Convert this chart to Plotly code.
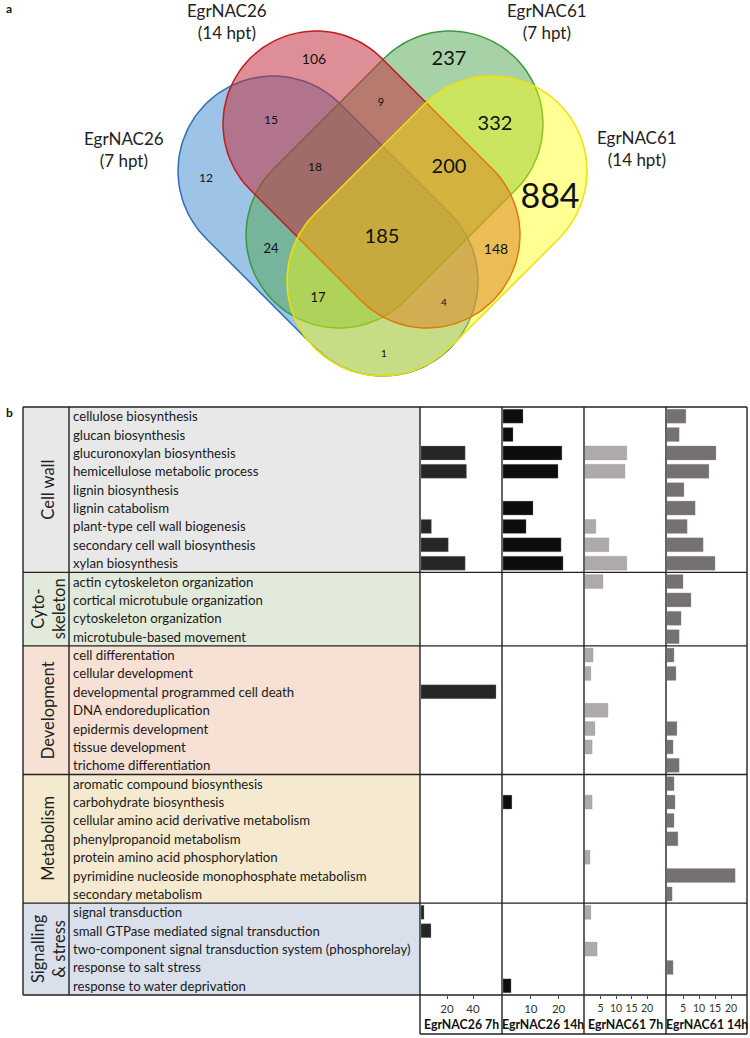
import numpy as np
import plotly.graph_objects as go

W, H = 750, 1038

# ---------------- data ----------------
venn_labels = ["EgrNAC26<br>(7 hpt)", "EgrNAC26<br>(14 hpt)", "EgrNAC61<br>(7 hpt)", "EgrNAC61<br>(14 hpt)"]
region_names = ["B", "R", "G", "Y", "BR", "RG", "GY", "BRG", "RGY", "BRGY", "BG", "RY", "BGY", "BRY", "BY"]
region_counts = [12, 106, 237, 884, 15, 9, 332, 18, 200, 185, 24, 148, 17, 4, 1]

groups = ["Cell wall", "Cyto-<br>skeleton", "Development", "Metabolism", "Signalling<br>& stress"]
group_sizes = [9, 4, 7, 7, 5]
terms = [
    "cellulose biosynthesis", "glucan biosynthesis", "glucuronoxylan biosynthesis",
    "hemicellulose metabolic process", "lignin biosynthesis", "lignin catabolism",
    "plant-type cell wall biogenesis", "secondary cell wall biosynthesis", "xylan biosynthesis",
    "actin cytoskeleton organization", "cortical microtubule organization",
    "cytoskeleton organization", "microtubule-based movement",
    "cell differentation", "cellular development", "developmental programmed cell death",
    "DNA endoreduplication", "epidermis development", "tissue development", "trichome differentiation",
    "aromatic compound biosynthesis", "carbohydrate biosynthesis",
    "cellular amino acid derivative metabolism", "phenylpropanoid metabolism",
    "protein amino acid phosphorylation", "pyrimidine nucleoside monophosphate metabolism",
    "secondary metabolism",
    "signal transduction", "small GTPase mediated signal transduction",
    "two-component signal transduction system (phosphorelay)", "response to salt stress",
    "response to water deprivation",
]
N = None
nac26_7h = [N, N, 34, 35, N, N, 8, 21, 34,
            N, N, N, N,
            N, N, 57.7, N, N, N, N,
            N, N, N, N, N, N, N,
            2.3, 7.7, N, N, N]
nac26_14h = [7.2, 3.6, 21.2, 19.8, N, 10.8, 8.3, 20.9, 21.6,
             N, N, N, N,
             N, N, N, N, N, N, N,
             N, 3.2, N, N, N, N, N,
             N, N, N, N, 2.9]
nac61_7h = [N, N, 13.5, 12.9, N, N, 3.5, 7.7, 13.5,
            5.8, N, N, N,
            2.6, 1.9, N, 7.4, 3.2, 2.3, N,
            N, 2.3, N, N, 1.6, N, N,
            1.9, N, 3.9, N, N]
nac61_14h = [5.9, 3.8, 15.3, 13.1, 5.3, 8.8, 6.3, 11.3, 15.0,
             5.0, 7.5, 4.4, 3.8,
             2.2, 2.8, N, N, 3.1, 1.9, 3.8,
             2.2, 2.5, 2.2, 3.4, N, 21.3, 1.6,
             N, N, N, 1.9, N]
panel_names = ["EgrNAC26 7h", "EgrNAC26 14h", "EgrNAC61 7h", "EgrNAC61 14h"]
panel_ticks = [[20, 40], [10, 20], [5, 10, 15, 20], [5, 10, 15, 20]]

# ---------------- styles / layout geometry ----------------
FONT = "Lato"
venn_order = ["B", "G", "R", "Y"]
venn_geom = {  # (centre1, centre2, radius) in pixels
    "B": ((273, 171), (383, 281), 95),
    "R": ((316, 124), (427, 235), 93),
    "G": ((450, 124), (339, 235), 93),
    "Y": ((492, 171), (382, 281), 95),
}
venn_fill = {"B": "rgba(91,155,213,0.6)", "R": "rgba(195,50,65,0.55)",
             "G": "rgba(80,165,80,0.5)", "Y": "rgba(255,255,0,0.42)"}
venn_line = {"B": "#2f6eb5", "R": "#c41a1a", "G": "#3a9a3a", "Y": "#eee200"}
region_pos = {"B": (206, 179), "R": (314, 60), "G": (449, 60), "Y": (550, 199),
              "BR": (271, 121), "RG": (381, 103), "GY": (495, 125), "BRG": (315, 168),
              "RGY": (449, 168), "BRGY": (382, 238), "BG": (271, 250), "RY": (496, 250),
              "BGY": (318, 299), "BRY": (444, 303), "BY": (384, 354)}
region_size = {"B": 12, "R": 14, "G": 20, "Y": 34, "BR": 12, "RG": 11, "GY": 20, "BRG": 12,
               "RGY": 20, "BRGY": 20, "BG": 13, "RY": 14, "BGY": 13, "BRY": 10, "BY": 10}
venn_label_pos = [(124, 150), (227, 22), (547, 22), (637, 149)]

table_top, row_h = 407, 18.375
x_left, x_grp, x_terms_end = 23, 69, 420
panel_edges = [420, 502, 584, 666, 747]
bar_colors = ["#262626", "#0d0d0d", "#aeaaaa", "#767171"]
panel_px_per_unit = [1.3, 2.78, 3.1, 3.2]
panel_tick_size = [11.5, 11.5, 10.5, 10.5]
group_bg = ["#e8e8e8", "#e2eadb", "#f7e0d4", "#f5ead0", "#d9e0ec"]
axis_bottom = 1034


def pxx(x):
    return x / W


def pxy(y):
    return 1 - y / H


def stadium(c1, c2, r, n=60):
    c1 = np.array(c1, float)
    c2 = np.array(c2, float)
    d = c2 - c1
    a = np.arctan2(d[1], d[0])
    t2 = np.linspace(a - np.pi / 2, a + np.pi / 2, n)
    t1 = np.linspace(a + np.pi / 2, a + 3 * np.pi / 2, n)
    xs = np.concatenate([c2[0] + r * np.cos(t2), c1[0] + r * np.cos(t1), [c2[0] + r * np.cos(t2[0])]])
    ys = np.concatenate([c2[1] + r * np.sin(t2), c1[1] + r * np.sin(t1), [c2[1] + r * np.sin(t2[0])]])
    return xs, ys


fig = go.Figure()

# ---------------- Venn ----------------
for k in venn_order:
    c1, c2, r = venn_geom[k]
    xs, ys = stadium(c1, c2, r)
    fig.add_trace(go.Scatter(x=xs, y=ys, mode="lines", fill="toself",
                             fillcolor=venn_fill[k], line=dict(color=venn_line[k], width=1.5),
                             hoverinfo="skip", showlegend=False, xaxis="x", yaxis="y"))

fig.add_trace(go.Scatter(
    x=[region_pos[n][0] for n in region_names],
    y=[region_pos[n][1] for n in region_names],
    text=[str(c) for c in region_counts], mode="text",
    textfont=dict(family=FONT, size=[region_size[n] for n in region_names], color="#111"),
    hoverinfo="skip", showlegend=False, xaxis="x", yaxis="y"))

annotations = []
for lab, (x, y) in zip(venn_labels, venn_label_pos):
    annotations.append(dict(x=pxx(x), y=pxy(y), xref="paper", yref="paper", text=lab,
                            showarrow=False, font=dict(family=FONT, size=17, color="#222"),
                            xanchor="center", yanchor="middle", align="center"))

annotations.append(dict(x=pxx(4), y=pxy(9), xref="paper", yref="paper", text="<b>a</b>",
                        showarrow=False, font=dict(family=FONT, size=12, color="#111"),
                        xanchor="left", yanchor="middle"))
annotations.append(dict(x=pxx(4), y=pxy(413), xref="paper", yref="paper", text="<b>b</b>",
                        showarrow=False, font=dict(family=FONT, size=12, color="#111"),
                        xanchor="left", yanchor="middle"))

# ---------------- table ----------------
shapes = []
n_rows = len(terms)
table_bottom = table_top + n_rows * row_h
start = 0
sec_bounds = []
for gi, (g, sz) in enumerate(zip(groups, group_sizes)):
    y0 = table_top + start * row_h
    y1 = table_top + (start + sz) * row_h
    sec_bounds.append((y0, y1))
    shapes.append(dict(type="rect", xref="paper", yref="paper", x0=pxx(x_left), x1=pxx(x_terms_end),
                       y0=pxy(y1), y1=pxy(y0), fillcolor=group_bg[gi], line=dict(width=0), layer="below"))
    annotations.append(dict(x=pxx((x_left + x_grp) / 2 + 2), y=pxy((y0 + y1) / 2), xref="paper", yref="paper",
                            text=g, textangle=-90, showarrow=False,
                            font=dict(family=FONT, size=16.5, color="#222"),
                            xanchor="center", yanchor="middle", align="center"))
    start += sz

for i, t in enumerate(terms):
    yc = table_top + (i + 0.5) * row_h
    annotations.append(dict(x=pxx(71), y=pxy(yc), xref="paper", yref="paper", text=t,
                            showarrow=False, font=dict(family=FONT, size=13.2, color="#1a1a1a"),
                            xanchor="left", yanchor="middle"))

LC = "#222"
LW = 1.4


def line(x0, y0, x1, y1, w=LW):
    shapes.append(dict(type="line", xref="paper", yref="paper", x0=pxx(x0), x1=pxx(x1),
                       y0=pxy(y0), y1=pxy(y1), line=dict(color=LC, width=w), layer="above"))


line(x_left, table_top, panel_edges[-1], table_top)
line(x_left, table_bottom, panel_edges[-1], table_bottom)
for (y0, y1) in sec_bounds[:-1]:
    line(x_left, y1, panel_edges[-1], y1)
line(x_left, table_top, x_left, table_bottom)
line(x_grp, table_top, x_grp, table_bottom)
for xe in panel_edges:
    line(xe, table_top, xe, axis_bottom)
line(panel_edges[0], axis_bottom, panel_edges[-1], axis_bottom)

# ---------------- bars ----------------
series = [nac26_7h, nac26_14h, nac61_7h, nac61_14h]
layout_axes = {}
for p in range(4):
    ax = p + 2
    x0p, x1p = panel_edges[p], panel_edges[p + 1]
    fig.add_trace(go.Bar(x=series[p], y=terms, orientation="h",
                         marker=dict(color=bar_colors[p], line=dict(color="rgba(150,150,150,0.5)", width=0.6)),
                         xaxis=f"x{ax}", yaxis=f"y{ax}", showlegend=False, hoverinfo="skip"))
    width_units = (x1p - x0p - 1) / panel_px_per_unit[p]
    layout_axes[f"xaxis{ax}"] = dict(domain=[pxx(x0p + 1), pxx(x1p)], anchor=f"y{ax}", range=[0, width_units],
                                     tickvals=panel_ticks[p], ticks="outside", ticklen=3, tickcolor="#444",
                                     tickangle=0,
                                     tickfont=dict(family=FONT, size=panel_tick_size[p], color="#333"),
                                     showgrid=False, zeroline=False, showline=False, fixedrange=True)
    layout_axes[f"yaxis{ax}"] = dict(domain=[pxy(table_bottom), pxy(table_top)], anchor=f"x{ax}",
                                     type="category", categoryorder="array", categoryarray=terms,
                                     range=[n_rows - 0.5, -0.5], showticklabels=False,
                                     showgrid=False, zeroline=False, showline=False, ticks="", fixedrange=True)
    annotations.append(dict(x=pxx((x0p + x1p) / 2), y=pxy(1024), xref="paper", yref="paper",
                            text=f"<b>{panel_names[p]}</b>", showarrow=False,
                            font=dict(family=FONT, size=12.3, color="#111"),
                            xanchor="center", yanchor="middle"))

fig.update_layout(
    width=W, height=H, margin=dict(l=0, r=0, t=0, b=0),
    paper_bgcolor="white", plot_bgcolor="rgba(0,0,0,0)",
    bargap=0.24,
    xaxis=dict(domain=[0, 1], range=[0, W], visible=False, fixedrange=True),
    yaxis=dict(domain=[pxy(400), 1], range=[400, 0], visible=False, fixedrange=True),
    shapes=shapes, annotations=annotations,
    **layout_axes,
)

fig.write_html("out.html", config={"displayModeBar": False},
               post_script="document.body.style.margin='0px';document.body.style.overflow='hidden';")
